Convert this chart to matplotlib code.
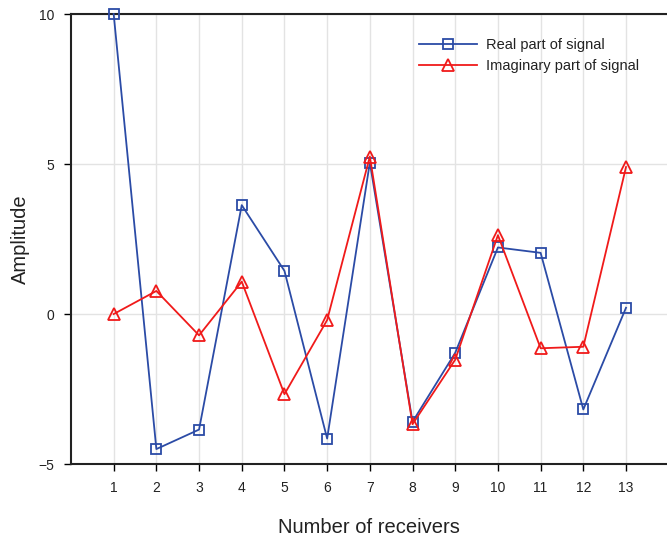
import numpy as np
import matplotlib.pyplot as plt

plt.rcParams['font.family'] = ['Liberation Sans', 'DejaVu Sans']

receivers = list(range(1, 14))
real_part = [10.0, -4.5, -3.85, 3.63, 1.44, -4.15, 5.05, -3.59, -1.29, 2.22, 2.04, -3.18, 0.21]
imag_part = [0.0, 0.77, -0.71, 1.08, -2.67, -0.2, 5.25, -3.67, -1.52, 2.63, -1.14, -1.09, 4.9]
y_ticks = [-5, 0, 5, 10]

blue = '#2b4ba6'
red = '#f01a1a'

fig = plt.figure(figsize=(6.67, 5.39), dpi=100)
ax = fig.add_axes([0.1064, 0.139, 0.8936, 0.835])

ax.plot(receivers, real_part, color=blue, lw=1.3, marker='s', ms=7,
        mfc='none', mec=blue, mew=1.3, label='Real part of signal', clip_on=False, zorder=3)
ax.plot(receivers, imag_part, color=red, lw=1.3, marker='^', ms=9,
        mfc='none', mec=red, mew=1.3, label='Imaginary part of signal', clip_on=False, zorder=3)

ax.set_xlim(0, 13.96)
ax.set_ylim(-5, 10)
ax.set_xticks(receivers)
ax.set_yticks(y_ticks)
ax.tick_params(labelsize=10, length=5, width=1, direction='out', pad=7, labelcolor='#222222')
ax.grid(True, color='#e3e3e3', lw=1)
ax.set_axisbelow(True)

for s in ['left', 'bottom', 'top']:
    ax.spines[s].set_linewidth(1.5)
    ax.spines[s].set_color('#222222')
ax.spines['right'].set_visible(False)

ax.set_xlabel('Number of receivers', fontsize=14.5, labelpad=17, color='#222222')
ax.set_ylabel('Amplitude', fontsize=14.5, labelpad=6, color='#222222')

ax.legend(loc='upper right', bbox_to_anchor=(0.975, 0.975), frameon=False,
          fontsize=10.5, handlelength=4, handletextpad=0.6, labelspacing=0.45,
          labelcolor='#222222')

fig.savefig('out.png', dpi=100)
